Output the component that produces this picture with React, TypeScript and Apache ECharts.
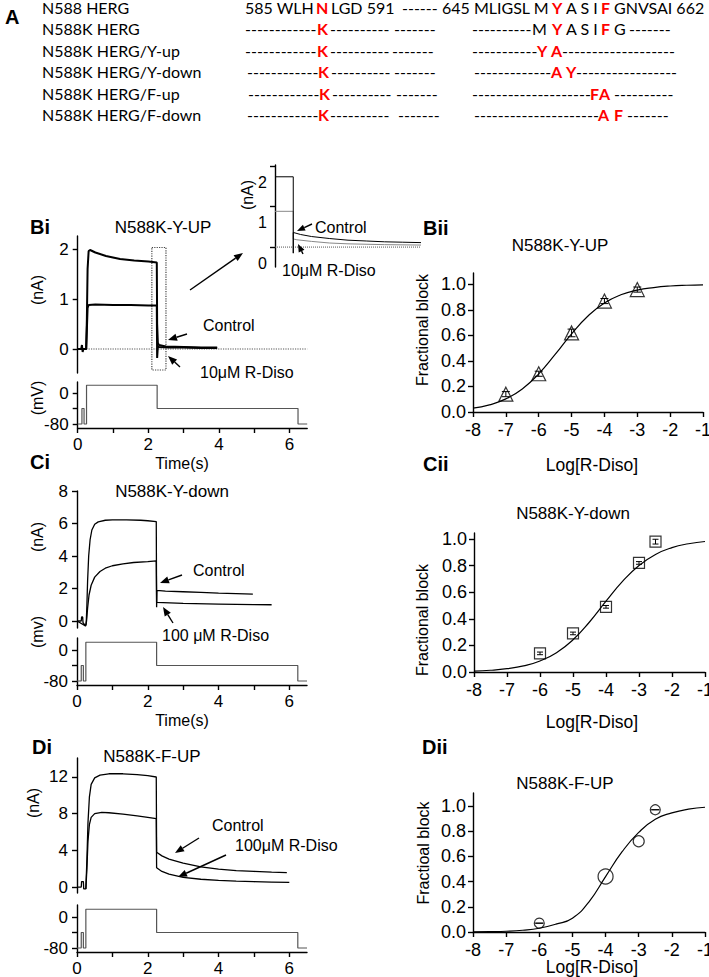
import React, { useEffect, useRef } from "react";
import * as echarts from "echarts";

const FONT = "'Liberation Sans', Arial, sans-serif";
const SEQ_FONT = "Lato, 'Open Sans', sans-serif";

// ---------- Panel A : sequence alignment ----------
const seqNames = [
  "N588 HERG",
  "N588K HERG",
  "N588K HERG/Y-up",
  "N588K HERG/Y-down",
  "N588K HERG/F-up",
  "N588K HERG/F-down",
];
// [text, isMutatedResidue]
const seqRows: [string, boolean][][] = [
  [["585 WLH", false], ["N", true], ["LGD 591", false], ["------", false], ["645 MLIGSL M", false], ["Y", true], ["A S I", false], ["F", true], ["GNVSAI 662", false]],
  [["------------", false], ["K", true], ["----------", false], ["-------", false], ["----------", false], ["M", false], ["Y", true], ["A S I", false], ["F", true], ["G", false], ["-------", false]],
  [["------------", false], ["K", true], ["----------", false], ["-------", false], ["-----------", false], ["Y", true], ["A", true], ["-------------------", false]],
  [["------------", false], ["K", true], ["----------", false], ["-------", false], ["-------------", false], ["A", true], ["Y", true], ["-----------------", false]],
  [["------------", false], ["K", true], ["----------", false], ["-------", false], ["--------------------", false], ["F", true], ["A", true], ["----------", false]],
  [["------------", false], ["K", true], ["----------", false], ["-------", false], ["---------------------", false], ["A", true], ["F", true], ["-------", false]],
];

// ---------- voltage protocol (mV vs s) ----------
const protocolTime = [0, 0.12, 0.12, 0.18, 0.18, 0.25, 0.25, 2.25, 2.25, 6.24, 6.24, 6.5];
const protocolMv = [-80, -80, -40, -40, -80, -80, 20, 20, -40, -40, -80, -80];
const timeTicks = [0, 1, 2, 3, 4, 5, 6];
const timeTickLabels = [0, 2, 4, 6];
const mvTicks = [-80, -40, 0];
const mvTickLabels = [-80, 0];

// ---------- Bi : N588K-Y-UP currents (nA) ----------
const biTicks = [0, 1, 2];
const biCtrlT = [0, 0.1, 0.12, 0.14, 0.16, 0.24, 0.26, 0.28, 0.31, 0.35, 0.5, 0.8, 1.2, 1.6, 2.0, 2.24, 2.25, 2.27, 2.3, 2.5, 3.0, 3.5, 3.95];
const biCtrlI = [0, 0, 0.08, -0.06, 0, 0, 0.6, 1.6, 1.96, 1.98, 1.93, 1.86, 1.8, 1.77, 1.75, 1.73, 0.5, 0.12, 0.08, 0.05, 0.04, 0.03, 0.03];
const biDrugT = [0, 0.24, 0.26, 0.28, 0.31, 0.5, 1.0, 1.5, 2.0, 2.24, 2.25, 2.25, 2.27, 2.3, 2.6, 3.0, 3.5, 3.95];
const biDrugI = [0, 0, 0.4, 0.82, 0.88, 0.89, 0.88, 0.88, 0.87, 0.87, 0.87, -0.18, 0.05, 0.04, 0.03, 0.03, 0.02, 0.02];
const biZeroT = [0.24, 6.5];
const biZeroI = [0, 0];
const biBoxT = [2.1, 2.5];
const biBoxI = [-0.42, 2.03];

// ---------- Bi inset ----------
const insetTicks = [0, 1, 2];
const insetCtrlT = [2.2, 2.25, 2.25, 2.25, 2.27, 2.3, 2.35, 2.4, 2.45, 2.5, 2.55, 2.6];
const insetCtrlI = [1.73, 1.73, -0.15, 0.36, 0.31, 0.26, 0.21, 0.17, 0.15, 0.13, 0.12, 0.11];
const insetDrugT = [2.2, 2.25, 2.25, 2.26, 2.3, 2.35, 2.4, 2.5, 2.6];
const insetDrugI = [0.88, 0.88, 0.2, 0.18, 0.14, 0.1, 0.08, 0.06, 0.05];
const insetZeroT = [2.2, 2.6];
const insetZeroI = [0, 0];

// ---------- Ci : N588K-Y-down ----------
const ciTicks = [0, 2, 4, 6, 8];
const ciCtrlT = [0, 0.12, 0.13, 0.16, 0.17, 0.24, 0.26, 0.28, 0.3, 0.33, 0.37, 0.42, 0.5, 0.6, 0.8, 1.0, 1.4, 1.8, 2.0, 2.24, 2.25, 2.25, 2.26, 2.5, 3.0, 3.5, 4.0, 4.5, 4.97];
const ciCtrlI = [0, 0, 0.25, 0.25, -0.1, -0.3, -0.2, 1.0, 2.5, 4.0, 5.0, 5.6, 5.95, 6.1, 6.2, 6.22, 6.22, 6.2, 6.17, 6.12, 6.12, 0.85, 1.88, 1.84, 1.8, 1.76, 1.72, 1.69, 1.66];
const ciDrugT = [0, 0.24, 0.27, 0.3, 0.34, 0.4, 0.5, 0.65, 0.8, 1.0, 1.3, 1.6, 2.0, 2.24, 2.25, 2.26, 3.0, 4.0, 5.0, 5.5];
const ciDrugI = [0, -0.3, 0.0, 0.8, 1.6, 2.2, 2.7, 3.05, 3.25, 3.4, 3.52, 3.6, 3.66, 3.7, 1.15, 1.12, 1.08, 1.04, 1.01, 1.0];

// ---------- Di : N588K-F-UP ----------
const diTicks = [0, 4, 8, 12];
const diCtrlT = [0, 0.12, 0.13, 0.18, 0.19, 0.25, 0.28, 0.31, 0.35, 0.4, 0.5, 0.65, 0.9, 1.3, 1.7, 2.0, 2.24, 2.25, 2.4, 2.6, 3.0, 3.5, 4.0, 4.5, 5.0, 5.5, 5.93];
const diCtrlI = [0, 0, 0.6, 0.6, -0.2, -0.2, 3, 7, 9.8, 11.2, 11.9, 12.2, 12.35, 12.35, 12.25, 12.15, 12.0, 3.8, 3.4, 3.05, 2.6, 2.2, 1.95, 1.8, 1.7, 1.63, 1.58];
const diDrugT = [0.25, 0.28, 0.31, 0.35, 0.4, 0.5, 0.7, 0.9, 1.3, 1.7, 2.0, 2.24, 2.25, 2.4, 2.6, 3.0, 3.5, 4.0, 4.5, 5.0, 5.5, 6.0];
const diDrugI = [-0.2, 2, 5, 6.8, 7.6, 8.0, 8.15, 8.1, 7.95, 7.75, 7.6, 7.45, 2.1, 1.7, 1.4, 1.05, 0.85, 0.72, 0.64, 0.58, 0.54, 0.5];

// ---------- concentration-response (fractional block vs log[R-Diso]) ----------
const logTicks = [-8, -7, -6, -5, -4, -3, -2, -1];
const fracTicks = [0, 0.2, 0.4, 0.6, 0.8, 1.0];
const fitLogX = [-8, -7.5, -7, -6.5, -6, -5.5, -5, -4.5, -4, -3.5, -3, -2.5, -2, -1.5, -1];

const biiX = [-7, -6, -5, -4, -3];
const biiY = [0.14, 0.3, 0.62, 0.87, 0.96];
const biiErr = [0.02, 0.02, 0.03, 0.02, 0.02];
const biiFit = [0.03, 0.056, 0.103, 0.181, 0.299, 0.451, 0.613, 0.753, 0.855, 0.919, 0.956, 0.976, 0.988, 0.994, 0.997];

const ciiX = [-6, -5, -4, -3, -2.5];
const ciiY = [0.14, 0.29, 0.49, 0.82, 0.98];
const ciiErr = [0.01, 0.01, 0.01, 0.01, 0.018];
const ciiFit = [0.007, 0.013, 0.025, 0.046, 0.083, 0.145, 0.242, 0.376, 0.532, 0.681, 0.801, 0.884, 0.935, 0.964, 0.981];

const diiX = [-6, -4, -3, -2.5];
const diiY = [0.07, 0.44, 0.72, 0.97];
const diiErr = [0.0, 0.0, 0.0, 0.0];
const diiFit = [0.001, 0.003, 0.006, 0.014, 0.03, 0.062, 0.11, 0.24, 0.44, 0.637, 0.79, 0.895, 0.945, 0.975, 0.99];

// ---------- helpers ----------
const zip = (a: number[], b: number[]) => a.map((x, i) => [x, b[i]]);

function txt(text: string, x: number, y: number, o: any = {}) {
  const size = o.size ?? 16;
  const family = o.family ?? FONT;
  const align = o.align ?? "left";
  return {
    type: "text",
    x,
    y,
    rotation: o.rotate ? Math.PI / 2 : 0,
    silent: true,
    z: 10,
    style: {
      text,
      fill: o.color ?? "#000",
      font: `${o.bold ? "bold " : ""}${size}px ${family}`,
      align,
      verticalAlign: "middle",
      textAlign: align,
      textVerticalAlign: "middle",
    },
  };
}

function arrow(x1: number, y1: number, x2: number, y2: number, head = 9, hw = 3.6) {
  const dx = x2 - x1;
  const dy = y2 - y1;
  const L = Math.hypot(dx, dy);
  const ux = dx / L;
  const uy = dy / L;
  const bx = x2 - ux * head;
  const by = y2 - uy * head;
  const px = -uy * hw;
  const py = ux * hw;
  const els: any[] = [];
  if (L > head) {
    els.push({ type: "line", silent: true, z: 10, shape: { x1, y1, x2: bx, y2: by }, style: { stroke: "#000", lineWidth: 1.4 } });
  }
  els.push({
    type: "polygon",
    silent: true,
    z: 10,
    shape: { points: [[x2, y2], [bx + px, by + py], [bx - px, by - py]] },
    style: { fill: "#000" },
  });
  return els;
}

const axisLineStyle = { color: "#000", width: 1.4 };

function hiddenX(grid: number, min: number, max: number) {
  return { gridIndex: grid, type: "value", min, max, show: false };
}

function timeX(grid: number) {
  return {
    gridIndex: grid,
    type: "value",
    min: 0,
    max: 6.5,
    axisLine: { show: true, onZero: false, lineStyle: axisLineStyle },
    axisTick: { show: true, length: 5, customValues: timeTicks, lineStyle: axisLineStyle },
    axisLabel: { show: true, customValues: timeTickLabels, margin: 8, fontSize: 17, color: "#000", fontFamily: FONT },
    splitLine: { show: false },
  };
}

function logX(grid: number) {
  return {
    gridIndex: grid,
    type: "value",
    min: -8,
    max: -1,
    axisLine: { show: true, onZero: false, lineStyle: axisLineStyle },
    axisTick: { show: true, length: 5, customValues: logTicks, lineStyle: axisLineStyle },
    axisLabel: { show: true, customValues: logTicks, margin: 9, fontSize: 18, color: "#000", fontFamily: FONT },
    splitLine: { show: false },
  };
}

function currentY(grid: number, min: number, max: number, ticks: number[], extraLabel: any = {}) {
  return {
    gridIndex: grid,
    type: "value",
    min,
    max,
    axisLine: { show: true, onZero: false, lineStyle: axisLineStyle },
    axisTick: { show: true, length: 5, customValues: ticks, lineStyle: axisLineStyle },
    axisLabel: {
      show: true,
      customValues: ticks,
      margin: 9,
      fontSize: 17,
      color: "#000",
      fontFamily: FONT,
      showMinLabel: true,
      showMaxLabel: true,
      ...extraLabel,
    },
    splitLine: { show: false },
  };
}

function mvY(grid: number, min: number, max: number) {
  return {
    gridIndex: grid,
    type: "value",
    min,
    max,
    axisLine: { show: true, onZero: false, lineStyle: axisLineStyle },
    axisTick: { show: true, length: 5, customValues: mvTicks, lineStyle: axisLineStyle },
    axisLabel: { show: true, customValues: mvTickLabels, margin: 9, fontSize: 17, color: "#000", fontFamily: FONT },
    splitLine: { show: false },
  };
}

function fracY(grid: number, max: number) {
  return {
    gridIndex: grid,
    type: "value",
    min: 0,
    max,
    axisLine: { show: true, onZero: false, lineStyle: axisLineStyle },
    axisTick: { show: true, length: 5, customValues: fracTicks, lineStyle: axisLineStyle },
    axisLabel: {
      show: true,
      customValues: fracTicks,
      margin: 7,
      fontSize: 18,
      color: "#000",
      fontFamily: FONT,
      formatter: (v: number) => v.toFixed(1),
    },
    splitLine: { show: false },
  };
}

function lineS(grid: number, data: number[][], color: string, width: number, dotted = false, extra: any = {}) {
  return {
    type: "line",
    xAxisIndex: grid,
    yAxisIndex: grid,
    data,
    showSymbol: false,
    symbol: "none",
    silent: true,
    z: 3,
    lineStyle: { color, width, type: dotted ? "dotted" : "solid" },
    ...extra,
  };
}

function scatterS(grid: number, xs: number[], ys: number[], symbol: string, sizes: number[]) {
  return {
    type: "scatter",
    xAxisIndex: grid,
    yAxisIndex: grid,
    data: zip(xs, ys),
    symbol,
    symbolSize: (_v: any, p: any) => sizes[p.dataIndex],
    silent: true,
    z: 5,
    itemStyle: { color: "rgba(255,255,255,0)", borderColor: "#000", borderWidth: 1.2 },
  };
}

function errS(grid: number, xs: number[], ys: number[], errs: number[], cap: number) {
  return {
    type: "custom",
    xAxisIndex: grid,
    yAxisIndex: grid,
    silent: true,
    z: 6,
    data: xs.map((x, i) => [x, ys[i] - errs[i], ys[i] + errs[i]]),
    renderItem: (_p: any, api: any) => {
      const x = api.value(0);
      const lo = api.coord([x, api.value(1)]);
      const hi = api.coord([x, api.value(2)]);
      const st = { stroke: "#000", lineWidth: 1 };
      return {
        type: "group",
        children: [
          { type: "line", shape: { x1: lo[0], y1: lo[1], x2: hi[0], y2: hi[1] }, style: st },
          { type: "line", shape: { x1: lo[0] - cap, y1: lo[1], x2: lo[0] + cap, y2: lo[1] }, style: st },
          { type: "line", shape: { x1: hi[0] - cap, y1: hi[1], x2: hi[0] + cap, y2: hi[1] }, style: st },
        ],
      };
    },
  };
}

// ---------- layout (pixels) ----------
const grids = [
  [77.7, 236, 229.5, 137], // 0 Bi current
  [77.7, 382, 229.5, 46], // 1 Bi voltage
  [275, 165, 146, 102], // 2 Bi inset
  [473, 273, 230, 139], // 3 Bii
  [77, 491, 230, 137], // 4 Ci current
  [77, 638, 230, 47], // 5 Ci voltage
  [474, 533, 231, 139], // 6 Cii
  [77, 758, 230, 135], // 7 Di current
  [77, 905, 230, 47], // 8 Di voltage
  [473, 793, 232, 139], // 9 Dii
];
const seqRowY = [7, 28, 50, 71, 93, 114];
const seqPieceX = [
  [245, 316, 331, 402, 442, 552, 566, 601, 614],
  [245, 317, 330, 394, 472, 532, 552, 566, 601, 614, 629],
  [245, 317, 330, 392, 472, 537, 551, 562],
  [247, 318, 331, 394, 474, 551, 566, 576],
  [248, 319, 332, 396, 472, 590, 599, 614],
  [247, 318, 330, 398, 474, 598, 614, 627],
];

export default function App() {
  const ref = useRef<HTMLDivElement>(null);

  useEffect(() => {
    if (!ref.current) return;
    const chart = echarts.init(ref.current, undefined, { renderer: "svg" });

    const g: any[] = [];
    // panel A
    g.push(txt("A", 5, 17, { bold: true, size: 20 }));
    seqNames.forEach((name, r) => {
      g.push(txt(name, 42, seqRowY[r], { family: SEQ_FONT, size: 16 }));
      seqRows[r].forEach(([s, red], k) => {
        g.push(
          txt(s, seqPieceX[r][k], seqRowY[r], {
            family: SEQ_FONT,
            size: 16,
            bold: red,
            color: red ? "#ff0000" : "#000",
          })
        );
      });
    });

    // panel letters
    g.push(txt("Bi", 30, 227, { bold: true, size: 20 }));
    g.push(txt("Bii", 423, 228, { bold: true, size: 20 }));
    g.push(txt("Ci", 30, 462, { bold: true, size: 20 }));
    g.push(txt("Cii", 423, 464, { bold: true, size: 20 }));
    g.push(txt("Di", 32, 747, { bold: true, size: 20 }));
    g.push(txt("Dii", 422, 747, { bold: true, size: 20 }));

    // titles
    g.push(txt("N588K-Y-UP", 163, 227, { size: 17, align: "center" }));
    g.push(txt("N588K-Y-UP", 560, 245, { size: 17, align: "center" }));
    g.push(txt("N588K-Y-down", 172, 491, { size: 17, align: "center" }));
    g.push(txt("N588K-Y-down", 573, 513, { size: 17, align: "center" }));
    g.push(txt("N588K-F-UP", 152, 756, { size: 17, align: "center" }));
    g.push(txt("N588K-F-UP", 565, 783, { size: 17, align: "center" }));

    // axis names
    g.push(txt("(nA)", 37, 290, { size: 16, align: "center", rotate: true }));
    g.push(txt("(mV)", 37, 398, { size: 16, align: "center", rotate: true }));
    g.push(txt("(nA)", 247, 195, { size: 16, align: "center", rotate: true }));
    g.push(txt("(nA)", 37, 537, { size: 16, align: "center", rotate: true }));
    g.push(txt("(mv)", 37, 632, { size: 16, align: "center", rotate: true }));
    g.push(txt("(nA)", 33, 803, { size: 16, align: "center", rotate: true }));
    g.push(txt("Time(s)", 182, 463, { size: 16, align: "center" }));
    g.push(txt("Time(s)", 182, 720, { size: 16, align: "center" }));
    g.push(txt("Fractional block", 422, 330, { size: 16, align: "center", rotate: true }));
    g.push(txt("Fractional block", 422, 620, { size: 16, align: "center", rotate: true }));
    g.push(txt("Fractioal block", 423, 853, { size: 16, align: "center", rotate: true }));
    g.push(txt("Log[R-Diso]", 592, 465, { size: 17.5, align: "center" }));
    g.push(txt("Log[R-Diso]", 592, 722, { size: 17.5, align: "center" }));
    g.push(txt("Log[R-Diso]", 592, 967, { size: 17.5, align: "center" }));

    // annotations
    g.push(txt("Control", 203, 325, { size: 16 }));
    g.push(txt("10\u03bcM R-Diso", 200, 372, { size: 16 }));
    g.push(txt("Control", 315, 227, { size: 16 }));
    g.push(txt("10\u03bcM R-Diso", 282, 270, { size: 16 }));
    g.push(txt("Control", 193, 570, { size: 16 }));
    g.push(txt("100 \u03bcM R-Diso", 162, 635, { size: 16 }));
    g.push(txt("Control", 212, 825, { size: 16 }));
    g.push(txt("100\u03bcM R-Diso", 235, 845, { size: 16 }));

    g.push(...arrow(190, 290, 243, 253));
    g.push(...arrow(187, 334, 168, 340));
    g.push(...arrow(180, 367, 168, 356));
    g.push(...arrow(312, 224, 297, 231, 8, 3.2));
    g.push(...arrow(303, 254, 298, 244, 8, 3.2));
    g.push(...arrow(182, 575, 160, 583));
    g.push(...arrow(173, 623, 163, 607));
    g.push(...arrow(199, 838, 175, 853));
    g.push(...arrow(226, 855, 178, 877));

    const option: any = {
      animation: false,
      backgroundColor: "#ffffff",
      textStyle: { fontFamily: FONT },
      grid: grids.map((r) => ({
        left: r[0],
        top: r[1],
        width: r[2],
        height: r[3],
        containLabel: false,
        outerBoundsMode: "none",
      })),
      xAxis: [
        hiddenX(0, 0, 6.5),
        timeX(1),
        hiddenX(2, 2.2, 2.6),
        logX(3),
        hiddenX(4, 0, 6.5),
        timeX(5),
        logX(6),
        hiddenX(7, 0, 6.5),
        timeX(8),
        logX(9),
      ],
      yAxis: [
        currentY(0, -0.48, 2.26, biTicks),
        mvY(1, -90.3, 28.4),
        currentY(2, -0.49, 2.02, insetTicks, {
          fontSize: 16,
          margin: 8,
          lineHeight: 11,
          verticalAlign: "top",
          hideOverlap: false,
          formatter: (v: number) => "\n" + v,
        }),
        fracY(3, 1.09),
        currentY(4, -0.43, 8, ciTicks),
        mvY(5, -90.3, 31),
        fracY(6, 1.045),
        currentY(7, -0.65, 14.07, diTicks),
        mvY(8, -90.3, 31),
        fracY(9, 1.103),
      ],
      series: [
        // Bi
        lineS(0, zip(biZeroT, biZeroI), "#555", 1.2, true, {
          markArea: {
            silent: true,
            itemStyle: { color: "rgba(0,0,0,0)", borderColor: "#444", borderWidth: 1.2, borderType: "dotted" },
            data: [[{ coord: [biBoxT[0], biBoxI[1]] }, { coord: [biBoxT[1], biBoxI[0]] }]],
          },
        }),
        lineS(0, zip(biCtrlT, biCtrlI), "#000", 2),
        lineS(0, zip(biDrugT, biDrugI), "#000", 2),
        lineS(1, zip(protocolTime, protocolMv), "#555", 1.2),
        // inset
        lineS(2, zip(insetZeroT, insetZeroI), "#555", 1, true),
        lineS(2, zip(insetDrugT, insetDrugI), "#888", 1),
        lineS(2, zip(insetCtrlT, insetCtrlI), "#000", 1),
        // Bii
        lineS(3, zip(fitLogX, biiFit), "#000", 1.2, false, { smooth: true }),
        errS(3, biiX, biiY, biiErr, 4),
        scatterS(3, biiX, biiY, "triangle", [14, 14, 14, 14, 14]),
        // Ci
        lineS(4, zip(ciCtrlT, ciCtrlI), "#000", 1.3),
        lineS(4, zip(ciDrugT, ciDrugI), "#000", 1.3),
        lineS(5, zip(protocolTime, protocolMv), "#555", 1.2),
        // Cii
        lineS(6, zip(fitLogX, ciiFit), "#000", 1.2, false, { smooth: true }),
        errS(6, ciiX, ciiY, ciiErr, 3),
        scatterS(6, ciiX, ciiY, "rect", [11, 11, 11, 11, 11]),
        // Di
        lineS(7, zip(diCtrlT, diCtrlI), "#000", 1.3),
        lineS(7, zip(diDrugT, diDrugI), "#000", 1.3),
        lineS(8, zip(protocolTime, protocolMv), "#555", 1.2),
        // Dii
        lineS(9, zip(fitLogX, diiFit), "#000", 1.2, false, { smooth: true }),
        errS(9, [diiX[0], diiX[3]], [diiY[0], diiY[3]], [diiErr[0], diiErr[3]], 4),
        scatterS(9, diiX, diiY, "circle", [10, 15, 11, 10]),
      ],
      graphic: { elements: g },
    };

    chart.setOption(option);
    return () => chart.dispose();
  }, []);

  return (
    <div
      ref={ref}
      style={{ position: "fixed", left: 0, top: 0, width: 709, height: 977, background: "#fff" }}
    />
  );
}
